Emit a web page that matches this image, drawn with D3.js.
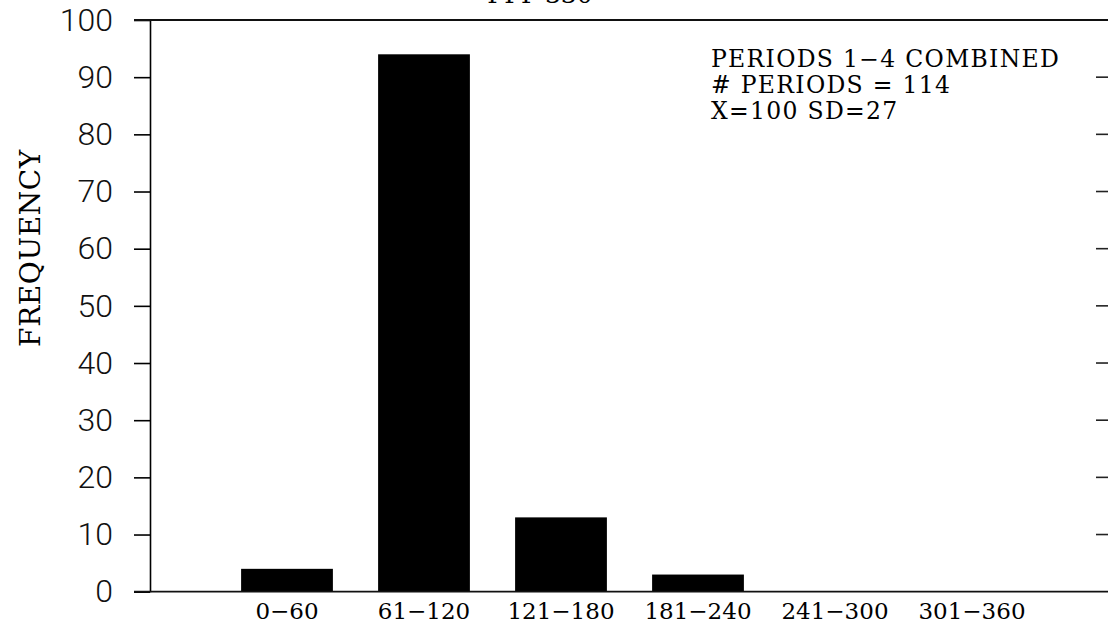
<!DOCTYPE html>
<html>
<head>
<meta charset="utf-8">
<script src="https://cdn.jsdelivr.net/npm/d3@7"></script>
<style>
  body { margin: 0; background: #fff; }
  svg { display: block; }
</style>
</head>
<body>
<div id="grafico"></div>
<script>
const categorias = ["0\u221260", "61\u2212120", "121\u2212180", "181\u2212240", "241\u2212300", "301\u2212360"];
const frecuencias = [4, 94, 13, 3, 0, 0];
const ticksY = [0, 10, 20, 30, 40, 50, 60, 70, 80, 90, 100];
const notas = ["PERIODS 1\u22124 COMBINED", "# PERIODS = 114", "X=100 SD=27"];
const titulo = "PPP-330";

const width = 1108;
const height = 623;
const margin = { top: 20, right: -1, bottom: 32, left: 150 };
const serif = "'DejaVu Serif', 'Liberation Serif', serif";

const svg = d3.select("#grafico")
  .append("svg")
  .attr("width", width)
  .attr("height", height);

// posiciones 1..6, el eje empieza en 0
const x = d3.scaleLinear()
  .domain([0, categorias.length + 1])
  .range([margin.left, width - margin.right]);

const y = d3.scaleLinear()
  .domain([0, 100])
  .range([height - margin.bottom + 0.7, margin.top]);

const anchoBarra = x(0.67) - x(0);

// Barras
svg.append("g")
  .selectAll("rect")
  .data(frecuencias)
  .join("rect")
  .attr("x", (d, i) => x(i + 1) - anchoBarra / 2)
  .attr("y", d => y(d))
  .attr("width", anchoBarra)
  .attr("height", d => y(0) - y(d))
  .attr("fill", "#000");

// Eje Y izquierdo
const ejeY = svg.append("g")
  .attr("transform", `translate(${x(0)},0)`)
  .call(d3.axisLeft(y).tickValues(ticksY).tickSize(16).tickPadding(21).tickSizeOuter(0));
ejeY.select(".domain").attr("stroke-width", 1.6);
ejeY.selectAll(".tick line").attr("stroke-width", 1.6);
ejeY.selectAll("text")
  .style("font-family", "Roboto, 'Liberation Sans', sans-serif")
  .style("font-weight", "300")
  .style("font-size", "32px")
  .attr("fill", "#111");

// Marcas derechas
svg.append("g")
  .selectAll("line")
  .data(ticksY.filter(t => t > 0 && t < 100))
  .join("line")
  .attr("x1", x(categorias.length + 1) - 13)
  .attr("x2", x(categorias.length + 1))
  .attr("y1", d => y(d))
  .attr("y2", d => y(d))
  .attr("stroke", "#222")
  .attr("stroke-width", 1.6);

// Lineas superior e inferior
[0, 100].forEach(v => {
  svg.append("line")
    .attr("x1", x(0) - 16)
    .attr("x2", width)
    .attr("y1", y(v))
    .attr("y2", y(v))
    .attr("stroke", "#111")
    .attr("stroke-width", 1.8);
});

// Etiquetas X
svg.append("g")
  .selectAll("text")
  .data(categorias)
  .join("text")
  .attr("x", (d, i) => x(i + 1))
  .attr("y", y(0) + 27)
  .attr("text-anchor", "middle")
  .style("font-family", serif)
  .style("font-size", "23px")
  .text(d => d);

// Titulo eje Y
svg.append("text")
  .attr("transform", `translate(40, 248) rotate(-90)`)
  .attr("text-anchor", "middle")
  .style("font-family", serif)
  .style("font-size", "28px")
  .style("letter-spacing", "0.6px")
  .text("FREQUENCY");

// Titulo (cortado arriba)
svg.append("text")
  .attr("x", 540)
  .attr("y", 3)
  .attr("text-anchor", "middle")
  .style("font-family", serif)
  .style("font-size", "25px")
  .text(titulo);

// Notas
svg.append("g")
  .selectAll("text")
  .data(notas)
  .join("text")
  .attr("x", 711)
  .attr("y", (d, i) => 67 + i * 26)
  .style("font-family", serif)
  .style("font-size", "23.5px")
  .style("letter-spacing", "1.3px")
  .text(d => d);
</script>
</body>
</html>
